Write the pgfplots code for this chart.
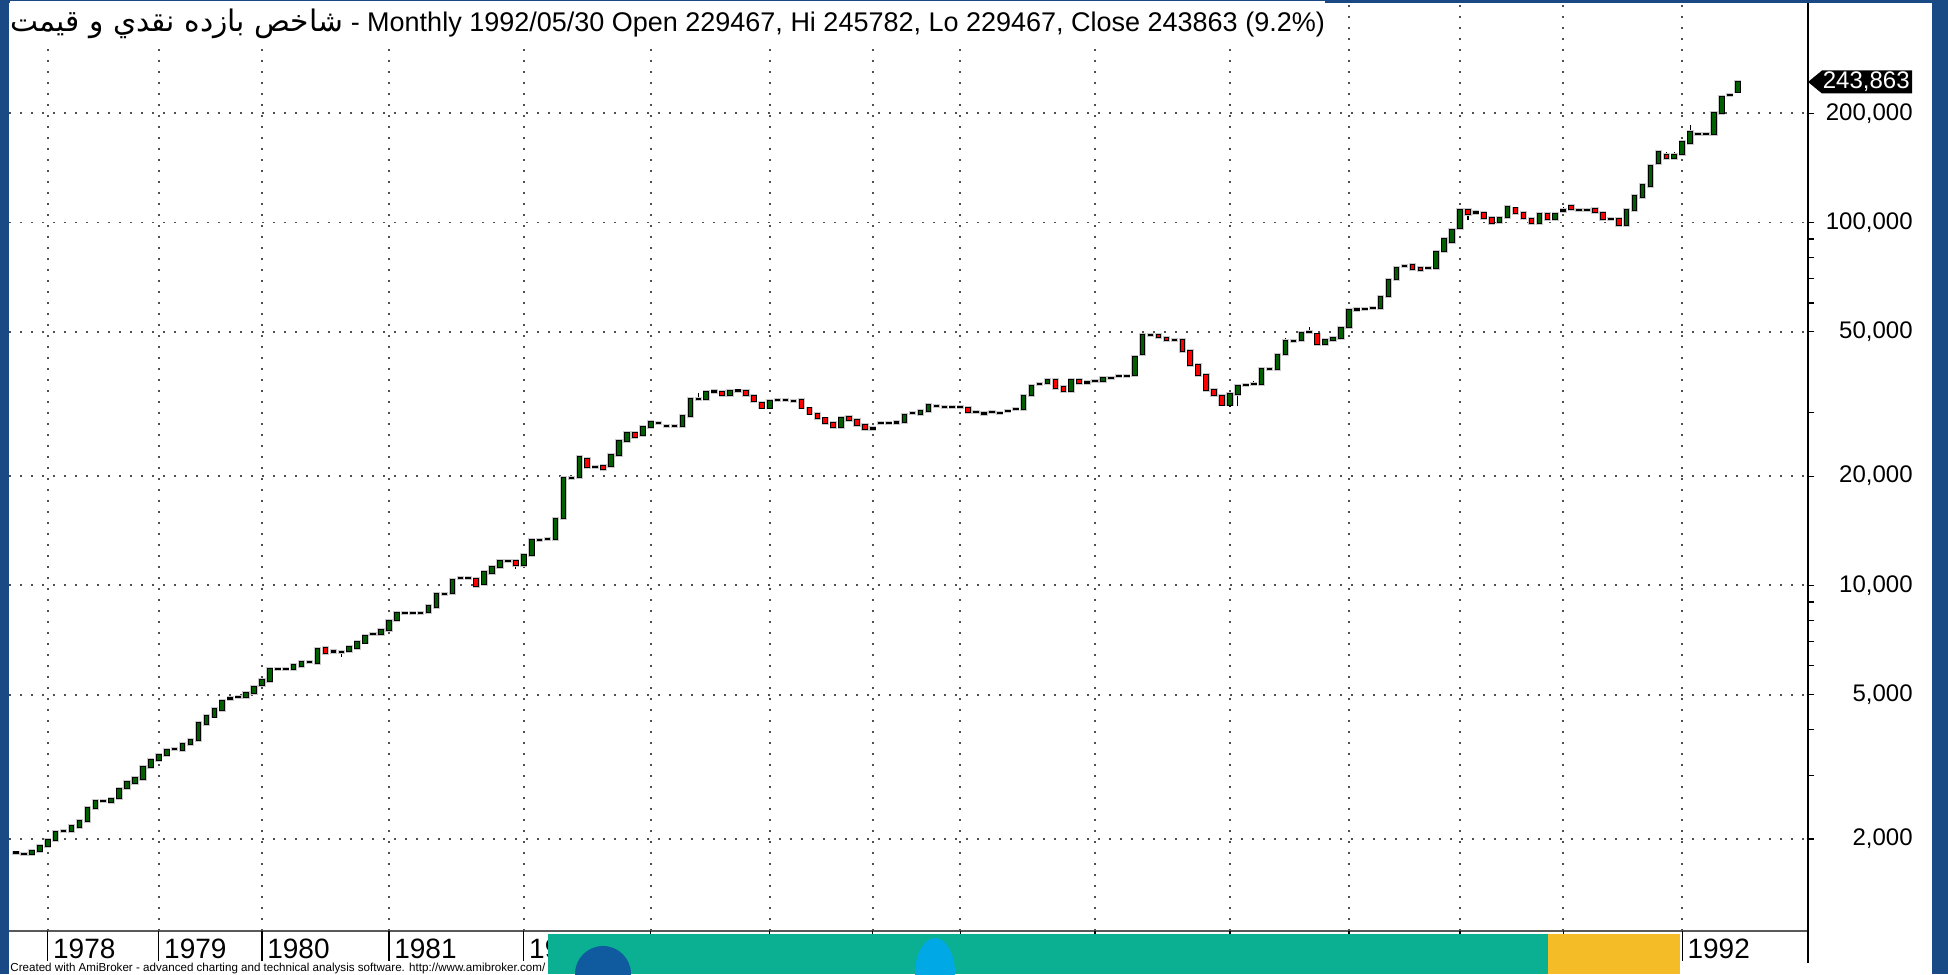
\documentclass[border=0pt]{standalone}
\usepackage{pgfplots}
\pgfplotsset{compat=1.18}
\usepackage{pgfplotstable}
\usepackage{fontspec}
\setmainfont{Liberation Sans}
\newfontfamily\arabicfont[Script=Arabic,Scale=1.1]{DejaVu Sans}
\TeXXeTstate=1
\definecolor{frameblue}{RGB}{26,74,134}
\definecolor{cgreen}{RGB}{0,96,0}
\definecolor{cred}{RGB}{255,0,0}
\definecolor{halo}{RGB}{200,200,200}
\definecolor{griddot}{RGB}{80,80,80}
\definecolor{bannerteal}{RGB}{10,176,145}
\definecolor{banneryellow}{RGB}{244,189,40}
\definecolor{bannerblue}{RGB}{16,90,160}
\definecolor{bannerlight}{RGB}{0,168,230}

\pgfplotstableread{
i o h l c
0 1834 1834 1834 1834
1 1819 1819 1819 1819
2 1819 1850 1819 1850
3 1850 1918 1850 1918
4 1915 1992 1915 1992
5 1990 2092 1990 2092
6 2100 2100 2100 2100
7 2110 2173 2110 2173
8 2160 2247 2160 2247
9 2247 2431 2247 2431
10 2440 2541 2440 2541
11 2541 2541 2541 2541
12 2530 2584 2530 2584
13 2600 2748 2600 2748
14 2766 2867 2766 2867
15 2860 2946 2860 2946
16 2935 3159 2935 3159
17 3150 3303 3150 3303
18 3295 3416 3295 3416
19 3416 3512 3416 3512
20 3535 3535 3535 3535
21 3520 3663 3520 3663
22 3660 3757 3660 3757
23 3750 4177 3750 4177
24 4160 4367 4160 4367
25 4350 4575 4350 4575
26 4540 4802 4540 4802
27 4873 4873 4873 4873
28 4926 4926 4926 4926
29 4915 5052 4915 5052
30 5040 5248 5040 5248
31 5300 5487 5300 5487
32 5440 5871 5440 5871
33 5871 5871 5871 5871
34 5871 5871 5871 5871
35 5890 6034 5890 6034
36 5990 6150 5990 6150
37 6140 6140 6140 6140
38 6120 6691 6120 6691
39 6720 6720 6524 6524
40 6566 6566 6566 6566
41 6550 6550 6360 6550
42 6610 6763 6610 6763
43 6734 6995 6734 6995
44 6960 7237 6960 7237
45 7330 7330 7330 7330
46 7345 7549 7345 7549
47 7530 7976 7530 7976
48 8030 8391 8030 8391
49 8391 8391 8391 8391
50 8391 8391 8391 8391
51 8391 8391 8391 8391
52 8465 8773 8465 8773
53 8740 9469 8740 9469
54 9469 9469 9469 9469
55 9548 10349 9548 10349
56 10459 10600 10459 10459
57 10459 10459 10459 10459
58 10392 10392 9981 9981
59 10090 10886 10090 10886
60 10800 11259 10800 11259
61 11220 11674 11220 11674
62 11674 11674 11674 11674
63 11674 11674 11100 11382
64 11382 12103 11382 12103
65 12103 13340 12103 13340
66 13340 13340 13340 13340
67 13424 13424 13424 13424
68 13424 15208 13424 15208
69 15306 19728 15306 19728
70 19728 19728 19728 19728
71 19929 22540 19929 22540
72 22255 22255 21150 21150
73 21150 21150 21150 21150
74 21330 21330 20600 20880
75 21330 22870 21330 22870
76 22870 25046 22870 25046
77 25046 26600 25046 26251
78 26251 26251 25400 25695
79 26000 27266 26000 27266
80 27266 28255 27266 28255
81 27970 27970 27970 27970
82 27494 27494 27494 27494
83 27494 27494 27494 27494
84 27494 29300 27494 29300
85 29300 32566 29300 32566
86 32566 34000 32566 32566
87 32566 34177 32566 34177
88 34177 34177 34177 34177
89 34177 34177 33470 33470
90 33470 34390 33470 34390
91 34390 34700 34390 34390
92 34390 34390 33470 33470
93 33300 33300 32280 32280
94 31900 31900 30900 30900
95 30900 32280 30900 32280
96 32400 32400 32400 32400
97 32420 32420 32420 32420
98 32210 32210 32210 32210
99 32350 32350 30900 30900
100 30730 30730 29760 29760
101 29700 29700 28990 28990
102 28850 28850 27960 27960
103 27960 27960 27260 27260
104 27260 29200 27260 28990
105 29170 29170 28570 28570
106 28570 28570 27670 27670
107 27670 27670 27030 27030
108 27030 27030 27030 27030
109 27960 27960 27960 27960
110 27960 27960 27960 27960
111 28080 28080 28080 28080
112 28260 29540 28260 29540
113 29800 29800 29800 29800
114 29670 30300 29670 30300
115 30300 31360 30300 31360
116 31220 31220 31220 31220
117 30960 30960 30960 30960
118 30960 30960 30960 30960
119 30960 30960 30960 30960
120 30830 30830 30050 30050
121 30050 30050 30050 30050
122 29730 29730 29730 29730
123 30050 30050 30050 30050
124 29800 29800 29800 29800
125 30240 30240 30240 30240
126 30570 30570 30570 30570
127 30570 33250 30570 33250
128 33430 35430 33430 35430
129 35890 35890 35890 35890
130 36200 36730 36200 36730
131 36730 36730 34990 34990
132 35130 35130 34180 34400
133 34400 36730 34400 36730
134 36730 37000 36040 36040
135 36200 36200 36200 36200
136 36480 36480 36480 36480
137 36600 37400 36600 37400
138 37300 37300 37300 37300
139 37650 37650 37650 37650
140 37650 37650 37650 37650
141 37950 42600 37950 42600
142 43300 49000 43300 49000
143 49000 49000 49000 49000
144 48950 48950 48270 48270
145 48080 48080 47430 47430
146 47400 47400 47400 47400
147 47400 47400 44300 44300
148 44300 44300 40400 40400
149 40400 40400 37900 37900
150 38000 38000 34500 34500
151 34550 34550 33550 33550
152 33300 33300 31500 31500
153 31500 33600 31000 33600
154 33750 35800 31200 35500
155 35700 35700 35700 35700
156 35900 36500 35900 35900
157 35950 39400 35950 39400
158 39400 39400 39400 39400
159 39350 43250 39350 43250
160 43500 47900 43500 47100
161 47100 47100 47100 47100
162 47450 49500 47450 49500
163 49850 51500 49850 49850
164 49150 49150 46200 46200
165 46200 47400 46200 47400
166 47400 48150 47400 48150
167 48150 51100 48150 51100
168 51600 57500 51600 57500
169 57500 57500 57500 57500
170 57800 57800 57800 57800
171 58100 58100 58100 58100
172 58250 62460 58250 62460
173 62840 69430 62840 69430
174 69860 75090 69860 75090
175 75880 75880 75880 75880
176 76380 76380 74300 74300
177 75090 75090 73990 73990
178 74780 74780 74780 74780
179 75090 82770 75090 82770
180 83500 90300 83500 90300
181 88500 95100 88500 95100
182 96360 108250 96360 108250
183 108250 108250 101600 105540
184 106440 106440 106440 106440
185 106440 106440 102680 102680
186 102680 102680 99500 99870
187 100510 102680 100510 102680
188 103750 110300 103750 110300
189 109300 109300 106430 106430
190 106440 106440 102680 102680
191 102020 102020 98420 99900
192 99900 105540 99900 105540
193 105540 105540 102050 102050
194 102050 105540 102050 105540
195 107800 110540 107800 107800
196 111250 111250 109140 109140
197 108250 108250 108250 108250
198 108250 108250 108250 108250
199 109140 109140 107100 107100
200 106440 106440 102050 102050
201 102050 102050 102050 102050
202 102050 102050 97800 98420
203 98420 108250 98420 108250
204 108250 118560 108250 118560
205 117810 126870 117810 126870
206 126300 143400 126300 143400
207 145600 156400 145600 156400
208 153470 156000 149000 150880
209 150880 156000 150880 153470
210 154450 166340 154450 166340
211 165280 185640 165280 177300
212 174990 174990 174990 174990
213 174990 174990 174990 174990
214 174990 200700 174990 200700
215 199940 224600 199940 222190
216 224600 224600 224600 224600
217 229467 245782 229467 243863
}\candles

\pgfplotsset{candle/.style={only marks, mark=*, mark size=0pt,
  mark options={draw=none, fill=none}}}

\begin{document}
\begin{tikzpicture}[x=0.5pt,y=0.5pt]
\fill[frameblue] (0,0) rectangle (1948,974);
\fill[white] (9,0) rectangle (1932,971);
\begin{axis}[
  at={(4.5pt,21.5pt)}, anchor=south west,
  width=899.5pt, height=464pt, scale only axis,
  ymode=log, log basis y=10,
  xmin=-0.882, xmax=225.86,
  ymin=1116.1, ymax=402580,
  clip=false,
  axis x line*=bottom, axis y line*=right,
  x axis line style={draw=gray!70!black, line width=1.3pt},
  y axis line style={draw=black, line width=0.8pt},
  xtick=\empty,
  extra x ticks={4,18,31,47,64,80,95,108,119,136,153,168,182,195,210},
  extra x tick labels={1978,1979,1980,1981,1982,1983,1984,1985,1986,1987,1988,1989,1990,1991,1992},
  extra x tick style={grid=major, major tick length=15pt, tick align=outside,
     tick style={black, line width=0.6pt}},
  xticklabel style={anchor=base west, xshift=2.5pt, yshift=1pt, inner sep=0pt,
     font=\fontsize{14}{14}\selectfont},
  ytick={2000,5000,10000,20000,50000,100000,200000},
  yticklabels={{2,000},{5,000},{10,000},{20,000},{50,000},{100,000},{200,000}},
  minor ytick={3000,4000,6000,7000,8000,9000,30000,60000,70000,80000,90000},
  ymajorgrids,
  major grid style={griddot, line width=0.9pt, dash pattern=on 0.9pt off 4.6pt},
  tick align=outside, major tick length=3pt, minor tick length=3pt,
  ytick style={black, line width=0.6pt},
  minor tick style={black, line width=0.6pt},
  yticklabel style={anchor=east, xshift=49.5pt, inner sep=0pt,
     font=\fontsize{12}{12}\selectfont},
]
% wicks
\addplot[candle,
  error bars/.cd, y dir=plus, y explicit,
  error bar style={black, line width=0.6pt, line cap=butt}, error mark=none]
  table[x=i, y=l, y error plus expr={\thisrow{h}-\thisrow{l}}] {\candles};
% light halo round each body
\addplot[candle,
  error bars/.cd, y dir=plus, y explicit,
  error bar style={halo, line width=3.6pt, line cap=butt, shorten <=-0.95pt, shorten >=-0.95pt}, error mark=none]
  table[x=i, y expr={min(\thisrow{o},\thisrow{c})},
        y error plus expr={max(abs(\thisrow{c}-\thisrow{o}),0.002*\thisrow{o})}] {\candles};
% black body outlines (flat months give the short dashes)
\addplot[candle,
  error bars/.cd, y dir=plus, y explicit,
  error bar style={black, line width=2.8pt, line cap=butt, shorten <=-0.5pt, shorten >=-0.5pt}, error mark=none]
  table[x=i, y expr={min(\thisrow{o},\thisrow{c})},
        y error plus expr={max(abs(\thisrow{c}-\thisrow{o}),0.002*\thisrow{o})}] {\candles};
% green bodies
\addplot[candle,
  restrict expr to domain={\thisrow{c}/\thisrow{o}}{1.004:100},
  error bars/.cd, y dir=plus, y explicit,
  error bar style={cgreen, line width=1.8pt, line cap=butt}, error mark=none]
  table[x=i, y=o, y error plus expr={\thisrow{c}-\thisrow{o}}] {\candles};
% red bodies
\addplot[candle,
  restrict expr to domain={\thisrow{c}/\thisrow{o}}{0.01:0.996},
  error bars/.cd, y dir=plus, y explicit,
  error bar style={cred, line width=1.8pt, line cap=butt}, error mark=none]
  table[x=i, y=c, y error plus expr={\thisrow{o}-\thisrow{c}}] {\candles};
% last price tag
\fill[black] (axis cs:225.86,243863) -- ++(7pt,5.75pt) -- ++(45pt,0pt) -- ++(0pt,-11.5pt) -- ++(-45pt,0pt) -- cycle;
\node[anchor=east, xshift=51pt, inner sep=0pt, text=white, font=\fontsize{12}{12}\selectfont] at (axis cs:225.86,243863) {243,863};
\end{axis}
\draw[black, line width=0.8pt] (1808,43) -- (1808,11);
\node[anchor=base west, fill=white, inner xsep=0pt, inner ysep=4pt,
  font=\fontsize{13.5}{13.5}\selectfont] at (10,942)
  {{\arabicfont\beginR شاخص بازده نقدي و قيمت\endR} - Monthly 1992/05/30 Open 229467, Hi 245782, Lo 229467, Close 243863 (9.2\%)};
\node[anchor=base west, inner sep=0pt, font=\fontsize{5.8}{5.8}\selectfont] at (10,2.5)
  {Created with AmiBroker - advanced charting and technical analysis software. http://www.amibroker.com/};
\fill[bannerteal] (548,0) rectangle (1548,40);
\fill[banneryellow] (1548,0) rectangle (1680,40);
\begin{scope}
\clip (548,0) rectangle (1548,40);
\fill[bannerblue] (603,0) circle (28);
\fill[bannerlight] (935,0) ellipse (20 and 36);
\end{scope}
\pgfresetboundingbox
\useasboundingbox (0,0) rectangle (1948,974);
\end{tikzpicture}
\end{document}
